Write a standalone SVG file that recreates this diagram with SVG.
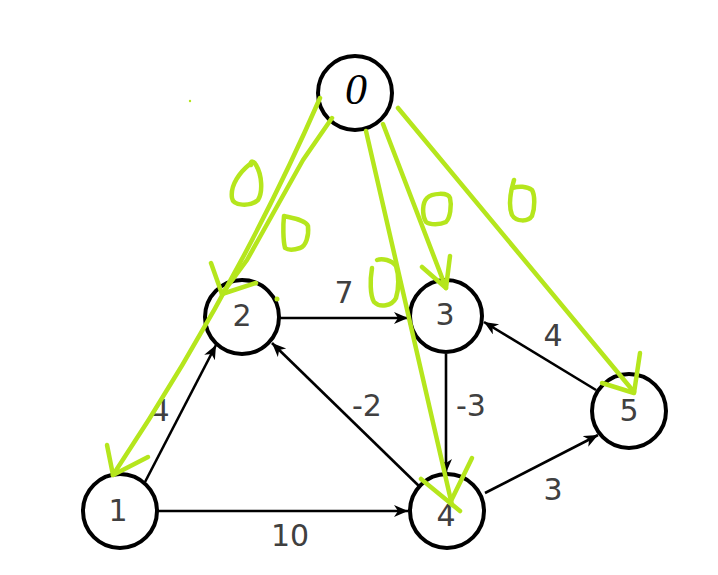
<svg xmlns="http://www.w3.org/2000/svg" width="718" height="575" viewBox="0 0 718 575">
<style>
.node circle{fill:#fff;stroke:#000;stroke-width:4}
.lbl{font-family:"DejaVu Sans",sans-serif;font-size:30px;fill:#404040;text-anchor:middle}
.edge{stroke:#000;stroke-width:2.6;fill:none;marker-end:url(#ah)}
.g{stroke:#b5e61d;stroke-width:4.5;fill:none;stroke-linecap:round;stroke-linejoin:round}
</style>
<defs>
<marker id="ah" markerUnits="userSpaceOnUse" markerWidth="16" markerHeight="14" refX="14" refY="6" orient="auto">
<path d="M0,0 L14,6 L0,12 L4,6 Z" fill="#000"/>
</marker>
</defs>
<rect width="718" height="575" fill="#fff"/>
<g id="connectors">
<line class="edge" x1="145" y1="482" x2="216" y2="345"/>
<line class="edge" x1="158" y1="511" x2="408" y2="511"/>
<line class="edge" x1="280" y1="318" x2="408" y2="318"/>
<line class="edge" x1="421" y1="488" x2="272" y2="343"/>
<line class="edge" x1="446" y1="354" x2="446" y2="473"/>
<line class="edge" x1="485" y1="493" x2="598" y2="435"/>
<line class="edge" x1="596" y1="390" x2="484" y2="322"/>
</g>
<g id="edge-labels">
<text class="lbl" x="160" y="421">4</text>
<text class="lbl" x="290" y="546">10</text>
<text class="lbl" x="344" y="303">7</text>
<text class="lbl" x="367" y="416">-2</text>
<text class="lbl" x="471" y="416">-3</text>
<text class="lbl" x="553" y="500">3</text>
<text class="lbl" x="553" y="346">4</text>
</g>
<g id="node0" class="node"><circle cx="355" cy="93" r="37"/><text x="356" y="104" font-family="Liberation Serif,serif" font-style="italic" font-size="44" text-anchor="middle" fill="#000">0</text></g>
<g id="node1" class="node"><circle cx="120" cy="511" r="37"/><text class="lbl" x="118" y="521">1</text></g>
<g id="node2" class="node"><circle cx="242" cy="317" r="37"/><text class="lbl" x="242" y="326">2</text></g>
<g id="node3" class="node"><circle cx="446" cy="316" r="36"/><text class="lbl" x="445" y="325">3</text></g>
<g id="node4" class="node"><circle cx="447" cy="511" r="37"/><text class="lbl" x="446" y="526">4</text></g>
<g id="node5" class="node"><circle cx="629" cy="411" r="37"/><text class="lbl" x="629" y="421">5</text></g>
<g id="green-annotations">
<path class="g" d="M320,98 Q236,290 113,475"/>
<polyline class="g" points="107,445 113,475 148,457"/>
<polyline class="g" points="332,118 303,160 247,260 222,294"/>
<polyline class="g" points="211,263 222,294 256,283"/>
<line class="g" x1="366" y1="131" x2="452" y2="505"/>
<line class="g" x1="421" y1="479" x2="460" y2="511"/>
<line class="g" x1="472" y1="458" x2="450" y2="503"/>
<line class="g" x1="383" y1="124" x2="446" y2="288"/>
<polyline class="g" points="422,267 446,288 450,256"/>
<line class="g" x1="398" y1="108" x2="634" y2="392"/>
<polyline class="g" points="602,383 634,393 640,353"/>
<path class="g" d="M250,164 C240,172 230,185 232,198 C233,206 250,207 258,200 C263,192 262,175 256,165 C254,161 250,160 251,165"/>
<path class="g" d="M284,216 C292,218 306,220 308,226 C309,236 306,246 300,248 C294,250 288,250 285,248 C283,240 283,225 284,216 Z"/>
<path class="g" d="M427,198 C432,193 448,192 450,198 C452,206 450,218 446,222 C440,225 430,225 426,222 C422,215 422,203 427,198 Z"/>
<path class="g" d="M514,180 C511,190 508,205 512,215 C516,222 528,222 532,216 C535,208 535,195 532,190 C527,186 518,186 513,188"/>
<path class="g" d="M372,268 C370,280 370,295 374,302 C380,308 392,306 396,298 C399,288 399,275 396,266 C392,260 382,258 377,260"/>
<circle cx="277" cy="299" r="2.5" fill="#b5e61d"/>
<circle cx="190" cy="101" r="1.2" fill="#b5e61d"/>
</g>
</svg>
